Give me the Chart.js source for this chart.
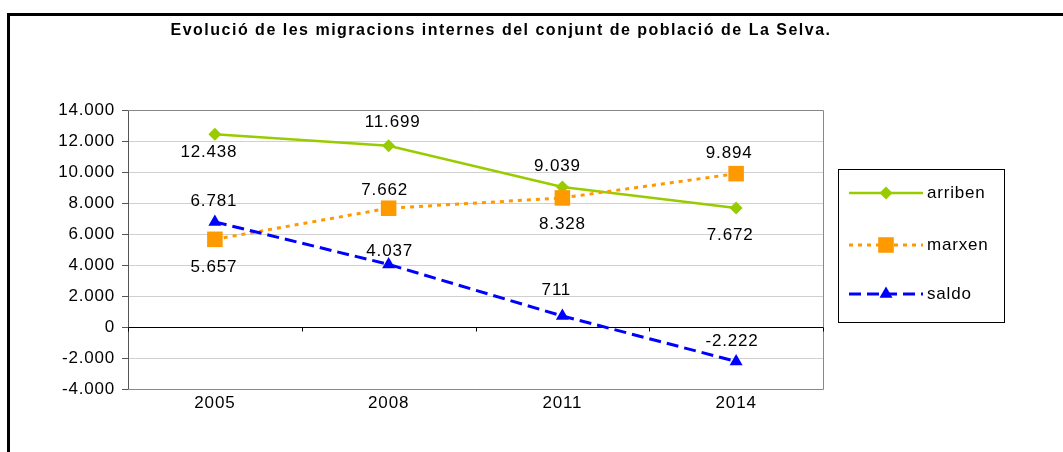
<!DOCTYPE html>
<html>
<head>
<meta charset="utf-8">
<script src="https://cdn.jsdelivr.net/npm/chart.js@4/dist/chart.umd.min.js"></script>
<style>
  html, body { margin: 0; padding: 0; background: #fff; }
  canvas { display: block; }
</style>
</head>
<body>
<canvas id="chart" width="1063" height="452"></canvas>
<script>
const years = ["2005", "2008", "2011", "2014"];
const arriben = [12438, 11699, 9039, 7672];
const marxen = [5657, 7662, 8328, 9894];
const saldo = [6781, 4037, 711, -2222];
const yTicks = { min: -4000, max: 14000, step: 2000 };
const title = "Evolució de les migracions internes del conjunt de població de La Selva.";

const FONT = "'Liberation Sans', Arial, sans-serif";
const SPACING = "0.8px";

// 12438 -> "12.438"
function fmt(v) {
  const s = Math.abs(v).toString().replace(/\B(?=(\d{3})+(?!\d))/g, ".");
  return (v < 0 ? "-" : "") + s;
}

function marker(ctx, style, x, y, r, color) {
  ctx.save();
  ctx.fillStyle = color;
  ctx.beginPath();
  if (style === "rectRot") {
    ctx.moveTo(x, y - r); ctx.lineTo(x + r, y); ctx.lineTo(x, y + r); ctx.lineTo(x - r, y);
  } else if (style === "rect") {
    const h = r * Math.SQRT1_2;
    ctx.rect(x - h, y - h, 2 * h, 2 * h);
  } else {
    const h = r * Math.sqrt(3) / 2;
    ctx.moveTo(x, y - r); ctx.lineTo(x + h, y + r / 2); ctx.lineTo(x - h, y + r / 2);
  }
  ctx.closePath();
  ctx.fill();
  ctx.restore();
}

// frame, title, plot border, category ticks
const decor = {
  id: "decor",
  beforeDraw(chart) {
    const ctx = chart.ctx;
    ctx.letterSpacing = SPACING;
    ctx.save();
    ctx.fillStyle = "#000";
    ctx.fillRect(7, 13, 1063 - 7, 3);
    ctx.fillRect(7, 13, 3, 452 - 13);
    ctx.font = "bold 16px " + FONT;
    ctx.textAlign = "center";
    ctx.textBaseline = "middle";
    ctx.letterSpacing = "1.5px";
    ctx.fillText(title, 501, 31);
    ctx.restore();
  },
  afterDatasetsDraw(chart) {
    const ctx = chart.ctx;
    const a = chart.chartArea;
    ctx.save();
    ctx.strokeStyle = "#888";
    ctx.lineWidth = 1;
    ctx.beginPath();
    ctx.moveTo(a.left, a.top + 0.5); ctx.lineTo(a.right + 0.5, a.top + 0.5);
    ctx.lineTo(a.right + 0.5, a.bottom + 0.5); ctx.lineTo(a.left, a.bottom + 0.5);
    ctx.stroke();
    // category tick marks on the zero axis
    const y0 = Math.round(chart.scales.y.getPixelForValue(0)) + 0.5;
    const n = years.length;
    ctx.strokeStyle = "#000";
    ctx.beginPath();
    for (let i = 0; i <= n; i++) {
      const x = Math.round(a.left + (a.right - a.left) * i / n) + 0.5;
      ctx.moveTo(x, y0); ctx.lineTo(x, y0 + 4);
    }
    ctx.stroke();
    ctx.restore();
  },
};

// value labels next to each marker
const valueLabels = {
  id: "valueLabels",
  afterDatasetsDraw(chart) {
    const ctx = chart.ctx;
    ctx.save();
    ctx.font = "17px " + FONT;
    ctx.fillStyle = "#000";
    ctx.textAlign = "center";
    ctx.textBaseline = "middle";
    chart.data.datasets.forEach((ds, i) => {
      chart.getDatasetMeta(i).data.forEach((pt, j) => {
        const [dx, dy] = ds.labelShift[j];
        ctx.fillText(fmt(ds.data[j]), pt.x + dx, pt.y + dy);
      });
    });
    ctx.restore();
  },
};

// boxed legend to the right of the plot
const sideLegend = {
  id: "sideLegend",
  afterDraw(chart) {
    const ctx = chart.ctx;
    const box = { x: 838.5, y: 169.5, w: 166, h: 153 };
    const rows = [193, 245, 294];
    ctx.save();
    ctx.strokeStyle = "#000";
    ctx.lineWidth = 1;
    ctx.strokeRect(box.x, box.y, box.w, box.h);
    chart.data.datasets.forEach((ds, i) => {
      const y = rows[i];
      ctx.save();
      ctx.strokeStyle = ds.borderColor;
      ctx.lineWidth = ds.borderWidth;
      ctx.setLineDash(ds.borderDash || []);
      ctx.beginPath();
      ctx.moveTo(849, y); ctx.lineTo(923, y);
      ctx.stroke();
      ctx.restore();
      marker(ctx, ds.pointStyle, 886, y, ds.pointRadius, ds.backgroundColor);
      ctx.font = "17px " + FONT;
      ctx.fillStyle = "#000";
      ctx.textAlign = "left";
      ctx.textBaseline = "middle";
      ctx.fillText(ds.label, 927, y);
    });
    ctx.restore();
  },
};

new Chart(document.getElementById("chart"), {
  type: "line",
  data: {
    labels: years,
    datasets: [
      {
        label: "arriben", data: arriben, order: 3,
        borderColor: "#99cc00", backgroundColor: "#99cc00", borderWidth: 2.5,
        pointStyle: "rectRot", pointRadius: 6.5, pointHoverRadius: 6.5, pointBorderWidth: 0,
        labelShift: [[-6, 18], [4, -23], [-5, -21], [-6, 27]],
      },
      {
        label: "marxen", data: marxen, order: 2,
        borderColor: "#ff9900", backgroundColor: "#ff9900", borderWidth: 3, borderDash: [4, 5],
        pointStyle: "rect", pointRadius: 11, pointHoverRadius: 11, pointBorderWidth: 0,
        labelShift: [[-1, 28], [-4, -18], [0, 26], [-7, -20]],
      },
      {
        label: "saldo", data: saldo, order: 1,
        borderColor: "#0000ff", backgroundColor: "#0000ff", borderWidth: 3, borderDash: [12, 6],
        pointStyle: "triangle", pointRadius: 7.5, pointHoverRadius: 7.5, pointBorderWidth: 0,
        labelShift: [[-1, -21], [1, -13], [-6, -26], [-4, -20]],
      },
    ],
  },
  options: {
    responsive: false,
    animation: false,
    devicePixelRatio: 1,
    layout: { padding: { left: 0, top: 110, right: 240, bottom: 33 } },
    elements: { line: { tension: 0 } },
    plugins: { legend: { display: false }, tooltip: { enabled: false } },
    scales: {
      x: {
        offset: true,
        grid: { display: false, drawTicks: false },
        border: { display: false },
        ticks: { color: "#000", font: { size: 17, family: FONT }, padding: 4 },
        afterFit(s) { s.height = 30; },
      },
      y: {
        min: yTicks.min, max: yTicks.max,
        ticks: {
          stepSize: yTicks.step, color: "#000", padding: 7,
          font: { size: 17, family: FONT }, callback: (v) => fmt(v),
        },
        grid: {
          color: (c) => (c.tick && c.tick.value === 0 ? "#000" : "#d0d0d0"),
          tickColor: "#555", tickLength: 6,
        },
        border: { color: "#555" },
        afterFit(s) { s.width = 128; },
      },
    },
  },
  plugins: [decor, valueLabels, sideLegend],
});
</script>
</body>
</html>
